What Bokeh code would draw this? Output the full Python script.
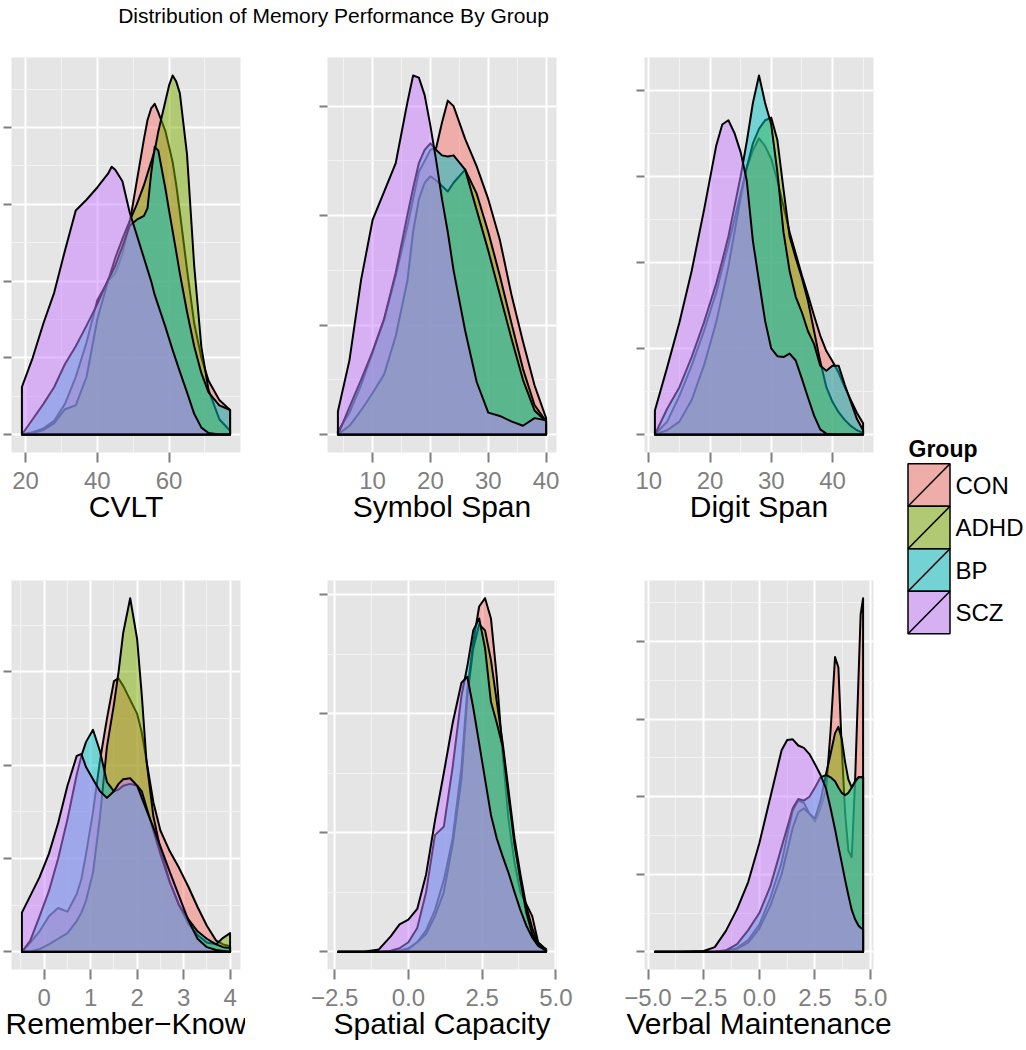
import numpy as np
from bokeh.plotting import figure
from bokeh.models import Range1d, FixedTicker, CustomJSTickFormatter
from bokeh.layouts import row, column
from bokeh.embed import file_html
from bokeh.resources import INLINE
from bokeh.core.properties import value

FONT = "Liberation Sans"
TITLE = "Distribution of Memory Performance By Group"

groups = ["CON", "ADHD", "BP", "SCZ"]
group_colors = ["#F8766D", "#7CAE00", "#00BFC4", "#C77CFF"]

# ---------------- CVLT (density, in y-tick units) ----------------
cvlt_x = [19, 22, 25, 28, 31, 34, 37, 40, 43, 44, 45, 47, 49, 51, 53, 54, 55, 56, 57, 59, 60, 61, 62, 63, 65, 67, 69, 71, 74, 77]
cvlt_con = [0, 0.03, 0.08, 0.18, 0.4, 0.75, 1.2, 1.75, 2.0, 2.05, 2.1, 2.35, 2.75, 3.3, 3.85, 4.1, 4.25, 4.31, 4.2, 3.95, 3.75, 3.55, 3.25, 2.9, 2.15, 1.45, 1.0, 0.7, 0.45, 0.32]
cvlt_adhd = [0, 0.02, 0.06, 0.15, 0.33, 0.38, 0.75, 1.5, 2.0, 2.15, 2.3, 2.55, 2.78, 3.0, 3.25, 3.4, 3.55, 3.7, 3.95, 4.35, 4.55, 4.68, 4.6, 4.45, 3.65, 2.2, 1.14, 0.58, 0.2, 0.05]
cvlt_bp = [0, 0.2, 0.4, 0.62, 0.92, 1.15, 1.42, 1.7, 2.02, 2.1, 2.2, 2.45, 2.72, 2.8, 2.85, 2.95, 3.4, 3.75, 3.7, 3.2, 2.92, 2.65, 2.38, 2.1, 1.6, 1.15, 0.8, 0.55, 0.38, 0.32]
cvlt_scz = [0.62, 1.0, 1.45, 1.85, 2.4, 2.92, 3.06, 3.22, 3.4, 3.49, 3.45, 3.3, 2.9, 2.6, 2.3, 2.15, 2.0, 1.82, 1.68, 1.4, 1.25, 1.1, 0.96, 0.82, 0.55, 0.27, 0.09, 0.02, 0.0, 0.0]
cvlt_ticks = [20, 40, 60]
cvlt_tick_labels = ["20", "40", "60"]
cvlt_minor = [30, 50, 70]

# ---------------- Symbol Span ----------------
sym_x = [4, 6, 8, 10, 12, 14, 16, 17, 18, 19, 20, 21, 22, 23, 24, 26, 28, 30, 32, 34, 36, 38, 40]
sym_con = [0.03, 0.2, 0.45, 0.75, 1.05, 1.45, 1.9, 2.15, 2.4, 2.5, 2.6, 2.62, 2.85, 3.05, 3.0, 2.7, 2.45, 2.15, 1.78, 1.28, 0.85, 0.45, 0.15]
sym_adhd = [0, 0.08, 0.22, 0.38, 0.55, 0.9, 1.4, 1.85, 2.15, 2.3, 2.36, 2.32, 2.27, 2.22, 2.3, 2.42, 2.2, 1.85, 1.45, 1.02, 0.6, 0.27, 0.12]
sym_bp = [0, 0.25, 0.5, 0.76, 1.06, 1.48, 2.0, 2.25, 2.48, 2.6, 2.66, 2.6, 2.55, 2.54, 2.55, 2.42, 2.05, 1.68, 1.28, 0.88, 0.5, 0.22, 0.12]
sym_scz = [0.21, 0.68, 1.41, 1.96, 2.22, 2.48, 3.03, 3.28, 3.26, 3.1, 2.82, 2.5, 2.15, 1.85, 1.5, 0.95, 0.48, 0.2, 0.17, 0.12, 0.08, 0.15, 0.13]
sym_ticks = [10, 20, 30, 40]
sym_tick_labels = ["10", "20", "30", "40"]
sym_minor = [5, 15, 25, 35]

# ---------------- Digit Span ----------------
dig_x = [11, 13, 15, 17, 19, 21, 22, 23, 24, 25, 26, 27, 28, 29, 30, 31, 32, 33, 34, 35, 36, 37, 38, 39, 40, 41, 42, 43, 44, 45]
dig_con = [0, 0.15, 0.45, 0.8, 1.2, 1.65, 1.93, 2.2, 2.5, 2.8, 3.1, 3.3, 3.44, 3.35, 3.2, 2.95, 2.65, 2.35, 2.1, 1.85, 1.62, 1.38, 1.15, 0.97, 0.85, 0.72, 0.55, 0.4, 0.25, 0.13]
dig_adhd = [0, 0.05, 0.15, 0.4, 0.8, 1.3, 1.62, 1.95, 2.35, 2.75, 3.1, 3.38, 3.55, 3.65, 3.68, 3.42, 2.85, 2.3, 2.05, 1.82, 1.55, 1.2, 0.85, 0.55, 0.38, 0.26, 0.17, 0.1, 0.05, 0.02]
dig_bp = [0, 0.3, 0.55, 0.9, 1.3, 1.75, 2.02, 2.3, 2.65, 3.0, 3.4, 3.85, 4.17, 3.85, 3.6, 3.05, 2.35, 1.9, 1.6, 1.42, 1.2, 1.05, 0.8, 0.74, 0.8, 0.8, 0.58, 0.38, 0.18, 0.05]
dig_scz = [0.28, 0.78, 1.3, 1.9, 2.6, 3.35, 3.6, 3.65, 3.5, 3.28, 2.95, 2.25, 1.78, 1.32, 1.0, 0.91, 0.9, 0.94, 0.86, 0.65, 0.43, 0.22, 0.06, 0.01, 0, 0, 0, 0, 0, 0]
dig_ticks = [10, 20, 30, 40]
dig_tick_labels = ["10", "20", "30", "40"]
dig_minor = [15, 25, 35, 45]

# ---------------- Remember-Know ----------------
rk_x = [-0.48, -0.3, -0.1, 0.1, 0.3, 0.5, 0.7, 0.8, 0.9, 1.05, 1.2, 1.35, 1.5, 1.6, 1.7, 1.85, 2.0, 2.1, 2.2, 2.35, 2.5, 2.7, 2.9, 3.1, 3.3, 3.5, 3.7, 3.85, 4.0]
rk_con = [0, 0.1, 0.22, 0.38, 0.47, 0.43, 0.62, 0.78, 1.05, 1.5, 2.05, 2.5, 2.9, 2.93, 2.85, 2.7, 2.55, 2.35, 2.05, 1.6, 1.3, 1.08, 0.9, 0.7, 0.48, 0.28, 0.12, 0.08, 0.06]
rk_adhd = [0, 0, 0.03, 0.08, 0.14, 0.2, 0.33, 0.42, 0.55, 0.85, 1.45, 2.2, 2.65, 3.0, 3.42, 3.79, 3.35, 2.75, 2.05, 1.45, 1.1, 0.75, 0.5, 0.3, 0.18, 0.1, 0.08, 0.15, 0.2]
rk_bp = [0, 0.12, 0.38, 0.65, 1.0, 1.42, 1.9, 2.1, 2.25, 2.38, 2.15, 1.82, 1.72, 1.74, 1.78, 1.8, 1.78, 1.72, 1.55, 1.3, 1.05, 0.75, 0.5, 0.35, 0.22, 0.14, 0.08, 0.05, 0.04]
rk_scz = [0.42, 0.6, 0.8, 1.05, 1.38, 1.78, 2.1, 2.12, 1.98, 1.85, 1.72, 1.65, 1.72, 1.8, 1.85, 1.86, 1.78, 1.65, 1.52, 1.33, 1.13, 0.86, 0.6, 0.34, 0.14, 0.05, 0.02, 0.01, 0.0]
rk_ticks = [0, 1, 2, 3, 4]
rk_tick_labels = ["0", "1", "2", "3", "4"]
rk_minor = [-0.5, 0.5, 1.5, 2.5, 3.5]

# ---------------- Spatial Capacity ----------------
sp_x = [-2.39, -1.5, -1.0, -0.6, -0.3, 0.0, 0.3, 0.6, 0.9, 1.2, 1.5, 1.8, 2.0, 2.2, 2.4, 2.6, 2.8, 3.0, 3.2, 3.4, 3.6, 3.8, 4.0, 4.2, 4.4, 4.67]
sp_con = [0, 0, 0, 0, 0, 0.02, 0.08, 0.18, 0.35, 0.6, 0.95, 1.55, 2.2, 2.6, 2.9, 2.97, 2.8, 2.3, 1.65, 1.1, 0.75, 0.5, 0.4, 0.3, 0.08, 0.02]
sp_adhd = [0, 0, 0, 0, 0.01, 0.03, 0.08, 0.15, 0.3, 0.5, 0.9, 1.45, 2.15, 2.55, 2.75, 2.7, 2.45, 2.1, 1.75, 1.35, 0.95, 0.65, 0.38, 0.2, 0.07, 0.02]
sp_bp = [0, 0, 0, 0.01, 0.03, 0.08, 0.2, 0.5, 0.98, 1.05, 1.55, 2.15, 2.4, 2.7, 2.8, 2.55, 2.1, 1.92, 1.72, 1.3, 0.9, 0.6, 0.33, 0.15, 0.06, 0.02]
sp_scz = [0, 0, 0.02, 0.13, 0.23, 0.27, 0.36, 0.65, 1.1, 1.5, 1.92, 2.26, 2.31, 2.05, 1.75, 1.45, 1.15, 0.95, 0.8, 0.66, 0.5, 0.35, 0.22, 0.12, 0.05, 0.01]
sp_ticks = [-2.5, 0.0, 2.5, 5.0]
sp_tick_labels = ["\u22122.5", "0.0", "2.5", "5.0"]
sp_minor = [-1.25, 1.25, 3.75]

# ---------------- Verbal Maintenance ----------------
vm_x = [-4.69, -3.5, -2.5, -2.0, -1.5, -1.0, -0.5, 0.0, 0.5, 1.0, 1.25, 1.5, 1.75, 2.0, 2.25, 2.5, 2.75, 3.0, 3.2, 3.4, 3.55, 3.7, 3.85, 4.0, 4.15, 4.3, 4.45, 4.55, 4.66]
vm_con = [0, 0, 0, 0, 0.01, 0.05, 0.15, 0.35, 0.7, 1.15, 1.5, 1.82, 1.95, 1.92, 1.78, 1.68, 1.85, 2.1, 2.85, 3.8, 3.67, 2.64, 1.8, 1.3, 1.22, 2.2, 3.5, 4.35, 4.56]
vm_adhd = [0, 0, 0, 0, 0.01, 0.04, 0.12, 0.3, 0.6, 1.0, 1.3, 1.6, 1.8, 1.85, 1.78, 1.72, 1.95, 2.3, 2.55, 2.82, 2.9, 2.75, 2.45, 2.22, 2.12, 2.18, 2.25, 2.25, 2.25]
vm_bp = [0, 0, 0, 0, 0.02, 0.1, 0.28, 0.5, 0.85, 1.35, 1.6, 1.85, 1.97, 1.95, 2.0, 2.12, 2.25, 2.28, 2.25, 2.2, 2.12, 2.05, 2.02, 2.05, 2.12, 2.2, 2.25, 2.25, 2.25]
vm_scz = [0, 0, 0.01, 0.06, 0.27, 0.55, 0.9, 1.4, 2.0, 2.6, 2.73, 2.74, 2.66, 2.63, 2.55, 2.42, 2.28, 2.1, 1.85, 1.58, 1.36, 1.15, 0.93, 0.73, 0.54, 0.42, 0.34, 0.31, 0.29]
vm_ticks = [-5.0, -2.5, 0.0, 2.5, 5.0]
vm_tick_labels = ["\u22125.0", "\u22122.5", "0.0", "2.5", "5.0"]
vm_minor = [-3.75, -1.25, 1.25, 3.75]


def panel(x, dens, xticks, xlabels, xminor, axis_title,
          frame_w, frame_h, left, right, top, bottom):
    lo, hi = x[0], x[-1]
    pad = 0.05 * (hi - lo)
    ymax = max(max(d) for d in dens)
    ytop = 1.05 * ymax
    p = figure(frame_width=frame_w, frame_height=frame_h,
               x_range=Range1d(lo - pad, hi + pad),
               y_range=Range1d(-0.05 * ymax, ytop),
               output_backend="svg", toolbar_location=None,
               min_border_left=left, min_border_right=right,
               min_border_top=top, min_border_bottom=bottom)
    p.background_fill_color = "#E5E5E5"
    p.border_fill_color = "white"
    p.outline_line_color = None

    for d, c in zip(dens, group_colors):
        xs = [x[0]] + list(x) + [x[-1]]
        ys = [0] + list(d) + [0]
        p.patch(xs, ys, fill_color=c, fill_alpha=0.5, line_color="black",
                line_width=2, line_join="round")

    xt = FixedTicker(ticks=xticks, minor_ticks=xminor)
    yt_major = list(range(0, int(np.floor(ytop)) + 1))
    yt_minor = [k + 0.5 for k in range(0, int(np.floor(ytop)) + 1) if k + 0.5 <= ytop]
    yt = FixedTicker(ticks=yt_major, minor_ticks=yt_minor)
    p.xaxis.ticker = xt
    p.yaxis.ticker = yt
    p.xgrid.ticker = xt
    p.ygrid.ticker = yt
    for g in (p.xgrid, p.ygrid):
        g.grid_line_color = "white"
        g.grid_line_width = 2
        g.minor_grid_line_color = "#F2F2F2"
        g.minor_grid_line_width = 1

    ax = p.xaxis[0]
    ax.major_label_overrides = {t: l for t, l in zip(xticks, xlabels)}
    ax.axis_label = axis_title
    ax.axis_label_text_font = FONT
    ax.axis_label_text_font_size = "30px"
    ax.axis_label_text_font_style = "normal"
    ax.axis_label_text_color = "black"
    ax.axis_label_standoff = -2
    ax.major_label_text_font = FONT
    ax.major_label_text_font_size = "24px"
    ax.major_label_text_color = "#7F7F7F"
    ax.major_label_standoff = 9
    ax.major_tick_out = 10
    ax.major_tick_in = 0
    ax.major_tick_line_color = "#7F7F7F"
    ax.major_tick_line_width = 2
    ax.minor_tick_line_color = None
    ax.axis_line_color = None

    ay = p.yaxis[0]
    ay.formatter = CustomJSTickFormatter(code="return ''")
    ay.major_label_standoff = 0
    ay.major_label_text_font_size = "1px"
    ay.major_tick_out = 8
    ay.major_tick_in = 0
    ay.major_tick_line_color = "#7F7F7F"
    ay.major_tick_line_width = 2
    ay.minor_tick_line_color = None
    ay.axis_line_color = None
    return p


FW = 229
R1H, R2H = 395, 389

f1 = panel(cvlt_x, [cvlt_con, cvlt_adhd, cvlt_bp, cvlt_scz], cvlt_ticks, cvlt_tick_labels, cvlt_minor,
           "CVLT", FW, R1H, 11, 5, 17, 80)
f2 = panel(sym_x, [sym_con, sym_adhd, sym_bp, sym_scz], sym_ticks, sym_tick_labels, sym_minor,
           "Symbol Span", FW, R1H, 82, 25, 17, 80)
f3 = panel(dig_x, [dig_con, dig_adhd, dig_bp, dig_scz], dig_ticks, dig_tick_labels, dig_minor,
           "Digit Span", FW, R1H, 63, 25, 17, 80)
f4 = panel(rk_x, [rk_con, rk_adhd, rk_bp, rk_scz], rk_ticks, rk_tick_labels, rk_minor,
           "Remember\u2212Know", FW, R2H, 11, 5, 48, 80)
f5 = panel(sp_x, [sp_con, sp_adhd, sp_bp, sp_scz], sp_ticks, sp_tick_labels, sp_minor,
           "Spatial Capacity", FW, R2H, 82, 25, 48, 80)
f6 = panel(vm_x, [vm_con, vm_adhd, vm_bp, vm_scz], vm_ticks, vm_tick_labels, vm_minor,
           "Verbal Maintenance", FW, R2H, 63, 25, 48, 80)

TOTAL_H = 40 + (17 + R1H + 80) + (48 + R2H + 80)

# ---------------- title ----------------
tf = figure(width=660, height=40, x_range=Range1d(0, 660), y_range=Range1d(40, 0),
            x_axis_type=None, y_axis_type=None, toolbar_location=None,
            output_backend="svg", min_border=0)
tf.outline_line_color = None
tf.text(x=[333], y=[15], text=[TITLE], text_align="center", text_baseline="alphabetic",
        text_font=value(FONT), text_font_size="21px", text_color="black")

# ---------------- legend ----------------
LEG_L = 899
leg = figure(width=1026 - LEG_L, height=TOTAL_H, x_range=Range1d(LEG_L, 1026),
             y_range=Range1d(TOTAL_H, 0),
             x_axis_type=None, y_axis_type=None, toolbar_location=None,
             output_backend="svg", min_border=0)
leg.outline_line_color = None
key_l, key_r, key_h, key_t0 = 908.5, 950.5, 42.5, 463.3
tops = [key_t0 + i * key_h for i in range(len(groups))]
bots = [t + key_h for t in tops]
leg.text(x=[909], y=[448], text=["Group"], text_font=value(FONT), text_font_style="bold",
         text_font_size="23px", text_baseline="alphabetic", text_color="black")
leg.quad(left=key_l, right=key_r, top=tops, bottom=bots, fill_color="#E5E5E5", line_color=None)
leg.quad(left=key_l, right=key_r, top=tops, bottom=bots, fill_color=group_colors,
         fill_alpha=0.5, line_color="black", line_width=1.5)
leg.segment(x0=[key_l] * 4, y0=bots, x1=[key_r] * 4, y1=tops, line_color="black", line_width=1.5)
leg.text(x=[956] * 4, y=[(t + b) / 2 for t, b in zip(tops, bots)], text=groups,
         text_font=value(FONT), text_font_size="24px", text_baseline="middle", text_color="black")

layout = row(column(tf, row(f1, f2, f3), row(f4, f5, f6)), leg)

with open("out.html", "w") as fh:
    fh.write(file_html(layout, INLINE))
